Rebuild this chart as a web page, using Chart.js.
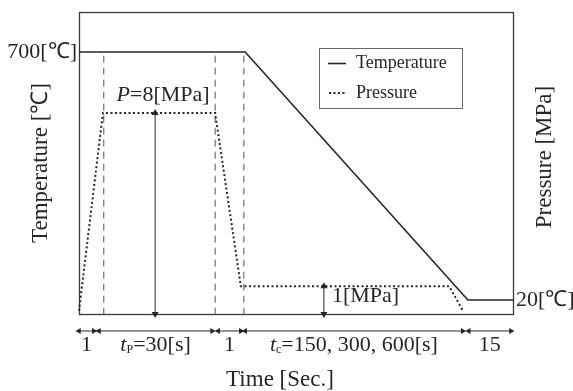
<!DOCTYPE html>
<html><head><meta charset="utf-8">
<script src="https://cdn.jsdelivr.net/npm/chart.js@4"></script>
<style>html,body{margin:0;padding:0;background:#fff}canvas{display:block}</style>
</head><body>
<canvas id="c" width="573" height="391"></canvas>
<script>
// Schematic time axis: 0..100 spans the frame (phases are not to scale in the original figure)
const tempTime = [0, 38.2, 89.4, 100];
const tempValues = [700, 700, 20, 20];
const presTime = [0, 5.5, 31.3, 37.2, 85.1, 88.3];
const presValues = [0, 8, 8, 1, 1, 0];
const phaseMarks = [5.7, 31.3, 37.9];
const phaseSegments = [[0, 3.4], [4.6, 30.6], [32.0, 37.2], [38.2, 88.2], [89.6, 99.3]];
const phaseLabels = ['1', ['t', 'P', '=30[s]'], '1', ['t', 'c', '=150, 300, 600[s]'], '15'];
const tempTickValues = [700, 20];
const tempTickText = ['700[℃]', '20[℃]'];
const presArrowTime = [17.5, 56.3];
const presArrowValues = [8, 1];
const presArrowText = [['P', '=8[MPa]'], ['', '1[MPa]']];
const seriesNames = ['Temperature', 'Pressure'];

const FRAME_BOTTOM_T = -18.4;   // temperature-axis value at the frame bottom
const FRAME_BOTTOM_P = -0.12;   // pressure-axis value at the frame bottom
const ARROW_ROW_T = -65;        // temperature-axis value of the phase-arrow row
const SERIF = "'Liberation Serif', 'Times New Roman', serif";
const INK = '#262626';

const dashedData = [];
phaseMarks.forEach(m => { dashedData.push({x: m, y: 690}, {x: m, y: FRAME_BOTTOM_T}, {x: m, y: null}); });
const presArrowData = [];
presArrowTime.forEach((x, i) => { presArrowData.push({x, y: FRAME_BOTTOM_P}, {x, y: presArrowValues[i]}, {x, y: null}); });
const phaseArrowData = [];
phaseSegments.forEach(s => { phaseArrowData.push({x: s[0], y: ARROW_ROW_T}, {x: s[1], y: ARROW_ROW_T}, {x: s[1], y: null}); });

function drawRich(ctx, parts, x, y, align) {
  let w = 0;
  parts.forEach(p => { ctx.font = p.font; w += ctx.measureText(p.t).width; });
  let cx = align === 'center' ? x - w / 2 : (align === 'right' ? x - w : x);
  ctx.textAlign = 'left';
  parts.forEach(p => { ctx.font = p.font; ctx.fillText(p.t, cx, y + (p.dy || 0)); cx += ctx.measureText(p.t).width; });
}

const annot = {
  id: 'annot',
  beforeDatasetsDraw(chart) {
    const {ctx, chartArea: a, scales} = chart;
    const yb = scales.yT.getPixelForValue(FRAME_BOTTOM_T);
    ctx.save();
    ctx.strokeStyle = '#3a3a3a'; ctx.lineWidth = 1.3;
    ctx.strokeRect(a.left + 0.5, a.top + 0.5, a.right - a.left - 1, yb - a.top);
    ctx.restore();
  },
  afterDatasetsDraw(chart) {
    const {ctx, chartArea: a, scales} = chart;
    const x = scales.x, yT = scales.yT, yP = scales.yP;
    ctx.save();
    ctx.fillStyle = INK; ctx.textBaseline = 'alphabetic';
    ctx.font = '22px ' + SERIF; ctx.textBaseline = 'middle';
    ctx.textAlign = 'right'; ctx.fillText(tempTickText[0], a.left - 2, yT.getPixelForValue(tempTickValues[0]));
    ctx.textAlign = 'left'; ctx.fillText(tempTickText[1], a.right + 2, yT.getPixelForValue(tempTickValues[1]));
    ctx.textBaseline = 'alphabetic';
    const p0 = presArrowText[0];
    drawRich(ctx, [{t: p0[0], font: 'italic 22px ' + SERIF}, {t: p0[1], font: '22px ' + SERIF}],
      x.getPixelForValue(presArrowTime[0]) + 8, yP.getPixelForValue(presArrowValues[0]) - 12, 'center');
    ctx.font = '22px ' + SERIF; ctx.textAlign = 'left';
    ctx.fillText(presArrowText[1][1], x.getPixelForValue(presArrowTime[1]) + 8, 302);
    const rowY = 351;
    phaseSegments.forEach((s, i) => {
      const cx = x.getPixelForValue((s[0] + s[1]) / 2);
      const lab = phaseLabels[i];
      if (typeof lab === 'string') {
        drawRich(ctx, [{t: lab, font: '22px ' + SERIF}], cx, rowY, 'center');
      } else {
        drawRich(ctx, [{t: lab[0], font: 'italic 22px ' + SERIF}, {t: lab[1], font: '12px ' + SERIF, dy: 2},
          {t: lab[2], font: '22px ' + SERIF}], cx, rowY, 'center');
      }
    });
    ctx.font = '23px ' + SERIF; ctx.textAlign = 'center'; ctx.textBaseline = 'middle';
    ctx.fillText('Time [Sec.]', 280, 380);
    ctx.save(); ctx.translate(41, 163); ctx.rotate(-Math.PI / 2); ctx.fillText('Temperature [℃]', 0, 0); ctx.restore();
    ctx.save(); ctx.translate(545, 157); ctx.rotate(-Math.PI / 2); ctx.fillText('Pressure [MPa]', 0, 0); ctx.restore();
    ctx.strokeStyle = '#6a6a6a'; ctx.lineWidth = 1;
    ctx.strokeRect(319.5, 48.5, 143, 60);
    ctx.strokeStyle = INK; ctx.lineWidth = 1.6;
    ctx.beginPath(); ctx.moveTo(328, 63.5); ctx.lineTo(346, 63.5); ctx.stroke();
    ctx.lineWidth = 2; ctx.setLineDash([2, 2.5]);
    ctx.beginPath(); ctx.moveTo(329, 93); ctx.lineTo(347, 93); ctx.stroke();
    ctx.setLineDash([]);
    ctx.font = '18px ' + SERIF; ctx.textAlign = 'left'; ctx.textBaseline = 'middle';
    ctx.fillText(seriesNames[0], 356, 63);
    ctx.fillText(seriesNames[1], 356, 93);
    ctx.restore();
  }
};

new Chart(document.getElementById('c'), {
  type: 'line',
  data: {
    datasets: [
      {label: seriesNames[0], yAxisID: 'yT', data: tempTime.map((t, i) => ({x: t, y: tempValues[i]})),
        borderColor: INK, borderWidth: 1.6, pointRadius: 0, clip: false},
      {label: seriesNames[1], yAxisID: 'yP', data: presTime.map((t, i) => ({x: t, y: presValues[i]})),
        borderColor: INK, borderWidth: 2, borderDash: [2, 2.5], pointRadius: 0, clip: false},
      {label: 'phase marks', yAxisID: 'yT', data: dashedData, spanGaps: false,
        borderColor: '#555', borderWidth: 1, borderDash: [7, 5], pointRadius: 0},
      {label: 'pressure arrows', yAxisID: 'yP', data: presArrowData, spanGaps: false,
        borderColor: INK, borderWidth: 1, pointStyle: 'triangle', backgroundColor: INK,
        pointBackgroundColor: INK, pointBorderColor: INK, pointBorderWidth: 0,
        pointRadius: c => (c.raw && c.raw.y !== null ? 4 : 0),
        pointRotation: c => (c.dataIndex % 3 === 0 ? 180 : 0), clip: false},
      {label: 'phase arrows', yAxisID: 'yT', data: phaseArrowData, spanGaps: false,
        borderColor: INK, borderWidth: 1, pointStyle: 'triangle',
        pointBackgroundColor: INK, pointBorderColor: INK, pointBorderWidth: 0,
        pointRadius: c => (c.raw && c.raw.y !== null ? 3.5 : 0),
        pointRotation: c => (c.dataIndex % 3 === 0 ? 270 : 90), clip: false}
    ]
  },
  options: {
    responsive: false, animation: false, events: [], devicePixelRatio: 1,
    layout: {padding: {left: 79, top: 12, right: 59, bottom: 51}},
    plugins: {legend: {display: false}, tooltip: {enabled: false}},
    scales: {
      x: {type: 'linear', min: 0, max: 100, display: false},
      yT: {type: 'linear', min: -89.7, max: 809.7, display: false},
      yP: {type: 'linear', min: -1.172, max: 12.081, display: false}
    }
  },
  plugins: [annot]
});
</script>
</body></html>
